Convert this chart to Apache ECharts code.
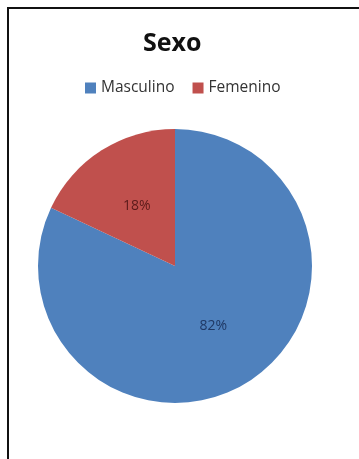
<!DOCTYPE html>
<html><head><meta charset="utf-8">
<script src="https://cdn.jsdelivr.net/npm/echarts@6/dist/echarts.min.js"></script>
<style>html,body{margin:0;padding:0;background:#fff}#c{width:359px;height:459px}</style>
</head><body><div id="c"></div>
<script>
const titleText = 'Sexo';
const categories = ['Masculino', 'Femenino'];
const values = [82, 18];
const colors = ['#4F81BD', '#C0504D'];
const labelColors = ['#1F3864', '#5A1A1A'];

const chart = echarts.init(document.getElementById('c'), null, {renderer: 'canvas'});
chart.setOption({
  animation: false,
  backgroundColor: '#fff',
  title: {
    text: titleText, left: 138, top: 26,
    textStyle: {fontFamily: 'Open Sans', fontWeight: 'bold', fontSize: 25, color: '#111'}
  },
  legend: {
    data: categories, top: 75, left: 80,
    itemWidth: 11, itemHeight: 11, itemGap: 18,
    icon: 'rect',
    textStyle: {fontFamily: 'Open Sans', fontSize: 15.5, color: '#333'}
  },
  graphic: [{
    type: 'polyline',
    shape: {points: [[8, 459], [8, 8], [359, 8]]},
    style: {stroke: '#111', lineWidth: 2, fill: null}
  }],
  series: [{
    type: 'pie',
    center: [175, 266],
    radius: 137,
    startAngle: 90,
    clockwise: true,
    label: {
      show: true, position: 'inside',
      formatter: '{d}%',
      fontFamily: 'Open Sans', fontSize: 14
    },
    labelLine: {show: false},
    emphasis: {disabled: true},
    data: categories.map((n, i) => ({
      name: n, value: values[i],
      itemStyle: {color: colors[i]},
      label: {color: labelColors[i]}
    }))
  }]
});
</script></body></html>
